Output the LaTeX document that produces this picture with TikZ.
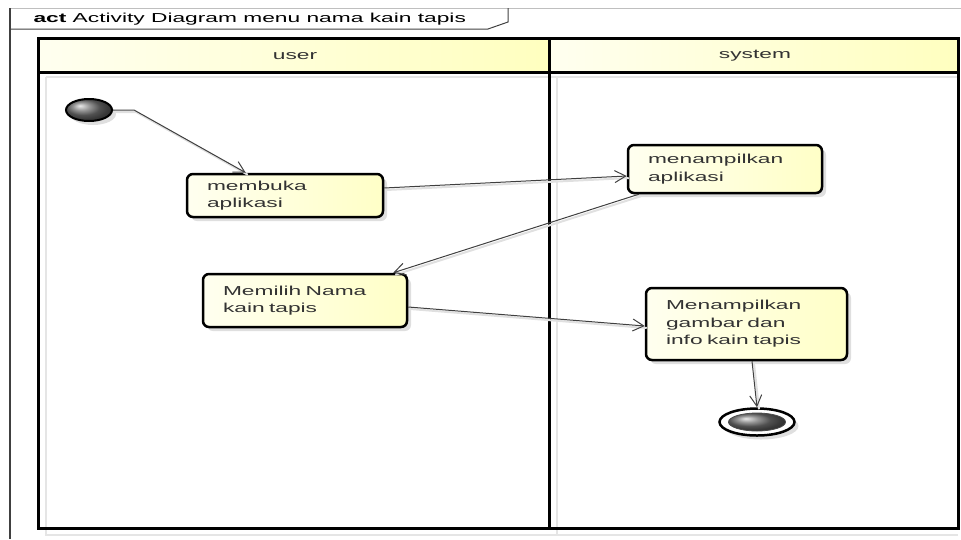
\documentclass[tikz,border=0pt]{standalone}
\usepackage{fontspec}
\setmainfont{Liberation Sans}[FakeStretch=1.75]
\usetikzlibrary{arrows.meta,shapes.geometric,shadows}

\begin{document}
\begin{tikzpicture}[x=1pt,y=-1pt]
	\tikzstyle{arrow}=[draw, line width=1pt, black!75, -{Straight Barb[length=11pt,width=12pt,line width=1pt]},
		preaction={draw=black!12, line width=2pt, -, transform canvas={shift={(2pt,-2pt)}}}]
	\tikzstyle{action}=[draw, rectangle, rounded corners=6pt, line width=2.5pt, align=left, inner xsep=20pt,
		left color=yellow!6, right color=yellow!22, text=black!80, font=\fontsize{13}{17.5}\selectfont,
		drop shadow={shadow xshift=4pt, shadow yshift=-4pt, opacity=0.25}]
	\tikzstyle{lane}=[draw, line width=3pt]
	\tikzstyle{ghost}=[draw=black!10, line width=2pt]
	\newcommand\XLeft{38}
	\newcommand\XMid{549}
	\newcommand\XRight{958}
	\newcommand\YTop{38}
	\newcommand\YHead{72}
	\newcommand\YBot{528}

	\useasboundingbox (0,0) rectangle (961,539);

	% Frame
	\draw [black!25, line width=0.8pt] (10,8) -- (961,8);
	\draw [black!75, line width=1.2pt] (10,8) -- (10,539);
	\draw [black!75, line width=1pt] (10,29) -- (488,29) -- (508,22) -- (508,8);
	\node [anchor=west, font=\fontsize{13}{15}\selectfont] at (30,19) (title) {\textbf{act} Activity Diagram menu nama kain tapis};

	% Lanes
	\draw [ghost] (46,\YHead+5) -- (46,535) -- (\XRight,535);
	\draw [ghost] (\XMid+8,\YHead+5) -- (\XMid+8,535);
	\draw [ghost] (46,\YHead+5) -- (\XRight,\YHead+5);
	\path [left color=yellow!6, right color=yellow!25] (\XLeft,\YTop) rectangle (\XMid,\YHead);
	\path [left color=yellow!6, right color=yellow!25] (\XMid,\YTop) rectangle (\XRight,\YHead);
	\draw [lane] (\XLeft,\YTop) rectangle (\XRight,\YBot);
	\draw [lane] (\XMid,\YTop) -- (\XMid,\YBot);
	\draw [lane] (\XLeft,\YHead) -- (\XRight,\YHead);
	\node [text=black!80, font=\fontsize{13}{15}\selectfont] at (295,56) (user) {user};
	\node [text=black!80, font=\fontsize{13}{15}\selectfont] at (755,56) (system) {system};

	% Start
	\node [draw, ellipse, line width=2pt, minimum width=46pt, minimum height=22pt, inner sep=0pt,
		shading=ball, ball color=black!55, drop shadow={shadow xshift=4pt, shadow yshift=-4pt, opacity=0.25}] at (89,110) (start) {};

	% Actions
	\node [action, text width=156pt, minimum height=43pt] at (285,195.5) (buka) {membuka\\aplikasi};
	\node [action, text width=154pt, minimum height=48pt] at (725,169) (tampil) {menampilkan\\aplikasi};
	\node [action, text width=164pt, minimum height=53pt] at (305,300.5) (pilih) {Memilih Nama\\kain tapis};
	\node [action, text width=161pt, minimum height=72pt] at (746.5,324) (info) {Menampilkan\\gambar dan\\info kain tapis};

	% End
	\node [draw, ellipse, line width=2.5pt, fill=white, minimum width=75pt, minimum height=27pt,
		drop shadow={shadow xshift=4pt, shadow yshift=-4pt, opacity=0.25}] at (757,422) (end) {};
	\node [draw=black!70, ellipse, line width=0.8pt, minimum width=57pt, minimum height=18pt, inner sep=0pt,
		shading=ball, ball color=black!55] at (end) (endin) {};

	% Flows
	\path [arrow] (start.east) -- ++(21,0) -- ([xshift=60pt]buka.north west);
	\path [arrow] ([yshift=7.5pt]buka.east) -- ([yshift=-7pt]tampil.west);
	\path [arrow] ([xshift=12pt]tampil.south west) -- ([xshift=-15pt]pilih.north east);
	\path [arrow] ([yshift=-6.5pt]pilih.east) -- ([yshift=-2pt]info.west);
	\path [arrow] ([xshift=5.5pt]info.south) -- (end.north);

\end{tikzpicture}
\end{document}
